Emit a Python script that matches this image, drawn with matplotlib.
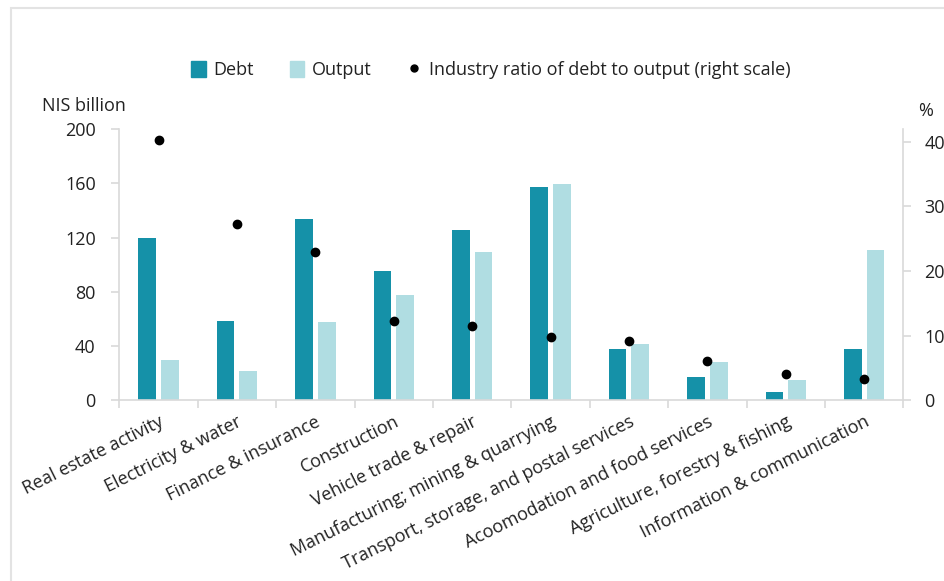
import numpy as np
import matplotlib.pyplot as plt
from matplotlib.lines import Line2D
from matplotlib.patches import Patch, Rectangle

plt.rcParams['font.family'] = ['Open Sans', 'DejaVu Sans']

# data
industries = ['Real estate activity', 'Electricity & water', 'Finance & insurance',
              'Construction', 'Vehicle trade & repair', 'Manufacturing; mining & quarrying',
              'Transport, storage, and postal services', 'Acoomodation and food services',
              'Agriculture, forestry & fishing', 'Information & communication']
debt = [120, 58.7, 134, 95.6, 125.5, 157.4, 37.9, 17.4, 6.1, 37.6]
output = [29.7, 21.4, 58, 78, 109.4, 159.4, 41.5, 28.5, 15, 111]
ratio = [40.2, 27.3, 23.0, 12.3, 11.5, 9.8, 9.1, 6.1, 4.0, 3.35]

debt_color = '#1591a8'
output_color = '#b0dde2'
grid_gray = '#d9d9d9'
text_color = '#222222'

fig = plt.figure(figsize=(9.44, 5.81), dpi=100)
ax = fig.add_axes([0.1264, 0.311, 0.8305, 0.4665])
ax2 = ax.twinx()

x = np.arange(len(industries))
w = 0.225
ax.bar(x - 0.145, debt, width=w, color=debt_color)
ax.bar(x + 0.145, output, width=w, color=output_color)
ax2.scatter(x, ratio, s=36, color='black', zorder=3)

ax.set_xlim(-0.5, len(industries) - 0.5)
ax.set_ylim(0, 200)
ax.set_yticks([0, 40, 80, 120, 160, 200])
ax2.set_ylim(0, 41.9)
ax2.set_yticks([0, 10, 20, 30, 40])

# ticks at category boundaries, labels at centres
ax.set_xticks(np.arange(len(industries) + 1) - 0.5)
ax.set_xticklabels([])
ax.set_xticks(x, minor=True)
ax.set_xticklabels(industries, minor=True, rotation=26.5, ha='right',
                   rotation_mode='anchor', fontsize=13, color=text_color)
ax.tick_params(axis='x', which='minor', length=0, pad=9)
ax.tick_params(axis='x', which='major', length=6, color=grid_gray, width=1.2)

for a in (ax, ax2):
    for s in a.spines.values():
        s.set_visible(False)
ax.spines['left'].set_visible(True)
ax.spines['bottom'].set_visible(True)
ax2.spines['right'].set_visible(True)
for s in (ax.spines['left'], ax.spines['bottom'], ax2.spines['right']):
    s.set_color(grid_gray)
    s.set_linewidth(1.2)

ax.tick_params(axis='y', length=6, color=grid_gray, width=1.2, labelsize=13,
               labelcolor=text_color, pad=11)
ax2.tick_params(axis='y', length=6, color=grid_gray, width=1.2, labelsize=13,
                labelcolor=text_color, pad=9)

fig.text(84 / 944, 1 - 106 / 581, 'NIS billion', ha='center', va='center',
         fontsize=13, color=text_color)
fig.text(926 / 944, 1 - 111 / 581, '%', ha='center', va='center',
         fontsize=13, color=text_color)

handles = [Patch(color=debt_color), Patch(color=output_color),
           Line2D([], [], marker='o', color='black', linestyle='none', markersize=5)]
fig.legend(handles, ['Debt', 'Output', 'Industry ratio of debt to output (right scale)'],
           loc='center', bbox_to_anchor=(491 / 944, 1 - 70 / 581), ncol=3,
           frameon=False, fontsize=13, handlelength=0.8, handleheight=1.0,
           handletextpad=0.4, columnspacing=2.0, labelcolor=text_color)

# light frame around the figure (top and left edges visible)
fig.add_artist(Rectangle((10.5 / 944, -0.1), 2, 1.1 - 7.5 / 581,
                         transform=fig.transFigure, fill=False,
                         edgecolor='#e3e3e3', linewidth=1.5))

fig.savefig('out.png', dpi=100)
